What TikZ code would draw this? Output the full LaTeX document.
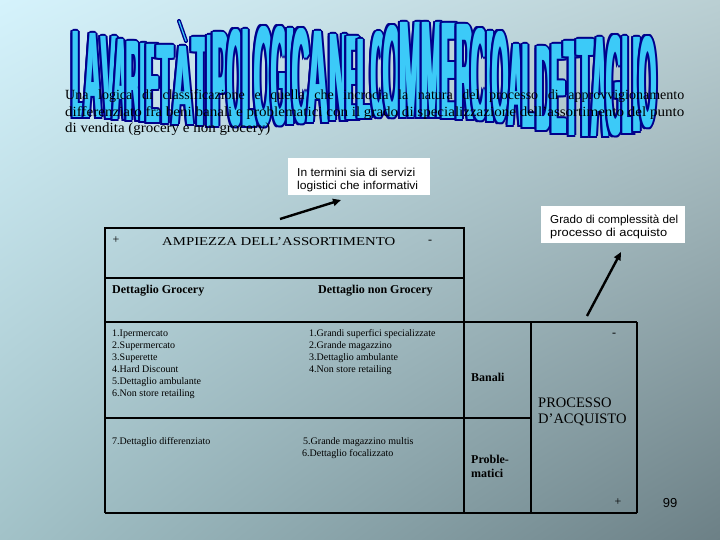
\documentclass[tikz,border=0pt]{standalone}
\usepackage{fontspec}
\setmainfont{Liberation Serif}
\newfontfamily\arial{Liberation Sans}
\usepackage{graphicx}
\usetikzlibrary{arrows.meta,shadings}
\definecolor{bgTL}{HTML}{D5F3FC}
\definecolor{bgTR}{HTML}{BACFD3}
\definecolor{bgBL}{HTML}{A2C2C8}
\definecolor{bgBR}{HTML}{6C8086}
\definecolor{wcyan}{HTML}{3CCAF8}
\definecolor{wnavy}{HTML}{00008B}
\newcounter{wlc}
\newcommand\wl[5]{%
  \pgfmathsetmacro\wlw{#2-#1+2}%
  \pgfmathsetmacro\wlh{#4-#3}%
  \foreach \dx/\dy in {-3/0,3/0,-2.5/-1.6,2.5/-1.6,-2.5/1.6,2.5/1.6,0/-2,0/2,-1.2/-2,1.2/-2,-1.2/2,1.2/2}{%
    \node[wlet,text=wnavy] at ({#1-1+\dx},{#4+\dy}) {\resizebox{\wlw pt}{\wlh pt}{#5}};}%
  \foreach \dx in {-1,1}{%
    \node[wlet,text=wcyan] at ({#1-1+\dx},#4) {\resizebox{\wlw pt}{\wlh pt}{#5}};}%
  \stepcounter{wlc}%
  \node[wlet,text=wcyan] (wl\arabic{wlc}) at (#1-1,#4) {\resizebox{\wlw pt}{\wlh pt}{#5}};%
}
\begin{document}
\begin{tikzpicture}[x=1pt,y=-1pt,
  wlet/.style={anchor=south west,inner sep=0pt,font=\arial\bfseries},
  grid/.style={line width=2.3pt,black},
  para/.style={anchor=base west,inner sep=0pt,font=\fontsize{14}{16}\selectfont},
  txt/.style={anchor=base west,inner sep=0pt,font=\fontsize{10}{12}\selectfont},
  btxt/.style={anchor=base west,inner sep=0pt,font=\fontsize{12}{14}\selectfont\bfseries},
  sign/.style={inner sep=0pt,font=\fontsize{12}{14}\selectfont},
  cbox/.style={anchor=north west,fill=white,inner sep=0pt},
  ctxt/.style={anchor=base west,inner sep=0pt,font=\arial\fontsize{11.5}{12.5}\selectfont},
  arr/.style={line width=2.4pt,-{Triangle[length=8pt,width=7pt]}}]
\useasboundingbox (0,0) rectangle (720,540);
\shade[upper left=bgTL,upper right=bgTR,lower left=bgBL,lower right=bgBR] (0,0) rectangle (720,540);
% ---- WordArt title
\wl{73}{85}{32}{118}{L}
\wl{85}{100}{34}{118}{A}
\wl{102}{115}{37}{119}{V}
\wl{114}{127}{40}{120}{A}
\wl{127}{140}{42}{121}{R}
\wl{140}{147}{44}{122}{I}
\wl{147}{158}{45}{123}{E}
\wl{158}{172}{46}{124}{T}
\wl{173}{192}{47}{125}{A}
\draw[wnavy,line width=4pt,line cap=round] (179,21) -- (186,41);
\draw[wcyan,line width=1.2pt,line cap=round] (179,21) -- (186,41);
\wl{193}{207}{38}{126}{T}
\wl{207}{213}{36}{127}{I}
\wl{213}{228}{33}{127}{P}
\wl{228}{243}{31}{127}{O}
\wl{243}{255}{30}{127}{L}
\wl{255}{272}{28}{127}{O}
\wl{272}{287}{28}{126}{G}
\wl{287}{293}{29}{125}{I}
\wl{293}{308}{30}{124}{C}
\wl{308}{327}{32}{123}{A}
\wl{330}{347}{35}{121}{N}
\wl{347}{358}{37}{120}{E}
\wl{358}{370}{40}{119}{L}
\wl{372}{384}{33}{118}{C}
\wl{384}{400}{27}{118}{O}
\wl{400}{422}{23}{118}{M}
\wl{422}{442}{23}{118}{M}
\wl{442}{457}{24}{119}{E}
\wl{457}{472}{25}{120}{R}
\wl{472}{487}{30}{121}{C}
\wl{487}{493}{32}{122}{I}
\wl{493}{507}{33}{123}{O}
\wl{509}{523}{45}{126}{A}
\wl{523}{534}{45}{128}{L}
\wl{537}{552}{47}{131}{D}
\wl{552}{565}{45}{134}{E}
\wl{565}{578}{42}{136}{T}
\wl{578}{592}{40}{137}{T}
\wl{592}{607}{38}{137}{A}
\wl{607}{623}{37}{136}{G}
\wl{623}{633}{37}{134}{L}
\wl{633}{640}{38}{132}{I}
\wl{640}{655}{38}{128}{O}
% ---- paragraph
\node[para] (p1) at (65,100) {\makebox[619pt][s]{Una logica di classificazione e quella che incrocia la natura del processo di approvvigionamento}};
\node[para] (p2) at (65,116.5) {\resizebox{619pt}{\height}{differenziato fra beni banali e problematici con il grado di specializzazione dell'assortimento del punto}};
\node[para] (p3) at (65,133) {\resizebox{205pt}{\height}{di vendita (grocery e non grocery)}};
% ---- callouts
\node[cbox,minimum width=142pt,minimum height=37pt] (c1) at (288,158) {};
\node[ctxt] (c1a) at (297,177) {\resizebox{118pt}{\height}{In termini sia di servizi}};
\node[ctxt] (c1b) at (297,189.5) {\resizebox{121pt}{\height}{logistici che informativi}};
\node[cbox,minimum width=144pt,minimum height=37pt] (c2) at (541,206) {};
\node[ctxt] (c2a) at (550,224) {\resizebox{128pt}{\height}{Grado di complessità del}};
\node[ctxt] (c2b) at (550,236.5) {\resizebox{117pt}{\height}{processo di acquisto}};
\coordinate (a1s) at (280,219);
\coordinate (a1e) at (341,200);
\coordinate (a2s) at (587,316);
\coordinate (a2e) at (621,252);
\draw[arr] (a1s) -- (a1e);
\draw[arr] (a2s) -- (a2e);
% ---- table
\draw[grid] (105,513) -- (105,228) -- (464,228) -- (464,513);
\draw[grid] (105,278) -- (464,278);
\draw[grid] (105,322) -- (637,322);
\draw[grid] (105,418) -- (531,418);
\draw[grid] (105,513) -- (637,513);
\draw[grid] (531,322) -- (531,513);
\draw[grid] (637,322) -- (637,513);
% ---- table texts
\node[sign] (hplus) at (116,240) {+};
\node[anchor=base west,inner sep=0pt,font=\fontsize{12}{14}\selectfont] (hdr) at (162,245) {\resizebox{233pt}{\height}{AMPIEZZA DELL'ASSORTIMENTO}};
\node[sign] (hminus) at (430,242) {-};
\node[btxt] (dg) at (112,293) {Dettaglio Grocery};
\node[btxt] (dng) at (318,293) {Dettaglio non Grocery};
\node[txt] (g1) at (112,336) {1.Ipermercato};
\node[txt] (g2) at (112,348) {2.Supermercato};
\node[txt] (g3) at (112,360) {3.Superette};
\node[txt] (g4) at (112,372) {4.Hard Discount};
\node[txt] (g5) at (112,384) {5.Dettaglio ambulante};
\node[txt] (g6) at (112,396) {6.Non store retailing};
\node[txt] (n1) at (309,336) {1.Grandi superfici specializzate};
\node[txt] (n2) at (309,348) {2.Grande magazzino};
\node[txt] (n3) at (309,360) {3.Dettaglio ambulante};
\node[txt] (n4) at (309,372) {4.Non store retailing};
\node[txt] (g7) at (112,444) {7.Dettaglio differenziato};
\node[txt] (n5) at (303,444) {5.Grande magazzino multis};
\node[txt] (n6) at (302,456) {6.Dettaglio focalizzato};
\node[btxt] (ban) at (471,381) {Banali};
\node[btxt] (pro1) at (471,463) {Proble-};
\node[btxt] (pro2) at (471,477) {matici};
\node[anchor=base west,inner sep=0pt,font=\fontsize{14.5}{16}\selectfont] (pa1) at (538,407) {PROCESSO};
\node[anchor=base west,inner sep=0pt,font=\fontsize{14.5}{16}\selectfont] (pa2) at (538,423) {D'ACQUISTO};
\node[sign] (rminus) at (614,335) {-};
\node[sign] (rplus) at (618,502) {+};
\node[inner sep=0pt,font=\arial\fontsize{13}{15}\selectfont] (pg) at (670,503) {99};
\end{tikzpicture}
\end{document}
